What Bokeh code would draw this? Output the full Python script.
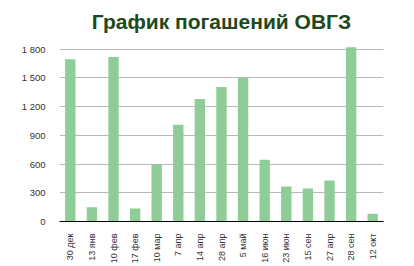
from bokeh.plotting import figure
from bokeh.models import FactorRange, Range1d, FixedTicker
from bokeh.embed import file_html
from bokeh.resources import INLINE
import math

categories = ["30 дек", "13 янв", "10 фев", "17 фев", "10 мар", "7 апр", "14 апр", "28 апр",
              "5 май", "16 июн", "23 июн", "15 сен", "27 апр", "28 сен", "12 окт"]
values = [1695, 148, 1718, 137, 595, 1010, 1280, 1405, 1497, 645, 365, 345, 428, 1820, 82]
y_ticks = [0, 300, 600, 900, 1200, 1500, 1800]
y_tick_labels = ["0", "300", "600", "900", "1 200", "1 500", "1 800"]

p = figure(width=414, height=266, output_backend="svg", toolbar_location=None,
           x_range=FactorRange(*categories, range_padding=0),
           y_range=Range1d(0, 1900),
           min_border_left=59, min_border_right=31, min_border_top=38, min_border_bottom=45)
p.title.text = "График погашений ОВГЗ"
p.title.align = "center"
p.title.text_font = "Liberation Sans"
p.title.text_font_size = "21px"
p.title.text_font_style = "bold"
p.title.text_color = "#1d4a1d"
p.title.offset = 2
p.title.standoff = 14

p.vbar(x=categories, top=values, width=0.48, color="#8ecd95", line_color=None)

p.outline_line_color = None
p.background_fill_color = "white"
p.border_fill_color = "white"
p.xgrid.grid_line_color = None
p.ygrid.grid_line_color = "#b8b8b8"
p.ygrid.ticker = FixedTicker(ticks=y_ticks)

p.yaxis.ticker = FixedTicker(ticks=y_ticks)
p.yaxis.major_label_overrides = {t: l for t, l in zip(y_ticks, y_tick_labels)}
p.yaxis.axis_line_color = None
p.yaxis.major_tick_line_color = None
p.yaxis.minor_tick_line_color = None
p.yaxis.major_label_text_font = "Liberation Sans"
p.yaxis.major_label_text_font_size = "9.5px"
p.yaxis.major_label_text_color = "#333333"
p.yaxis.major_label_standoff = 8

p.xaxis.axis_line_color = "black"
p.xaxis.axis_line_width = 1
p.xaxis.major_tick_line_color = None
p.xaxis.minor_tick_line_color = None
p.xaxis.major_label_orientation = math.pi / 2
p.xaxis.major_label_text_font = "Liberation Sans"
p.xaxis.major_label_text_font_size = "9px"
p.xaxis.major_label_text_color = "#333333"
p.xaxis.major_label_standoff = 6

open("out.html", "w").write(file_html(p, INLINE))
